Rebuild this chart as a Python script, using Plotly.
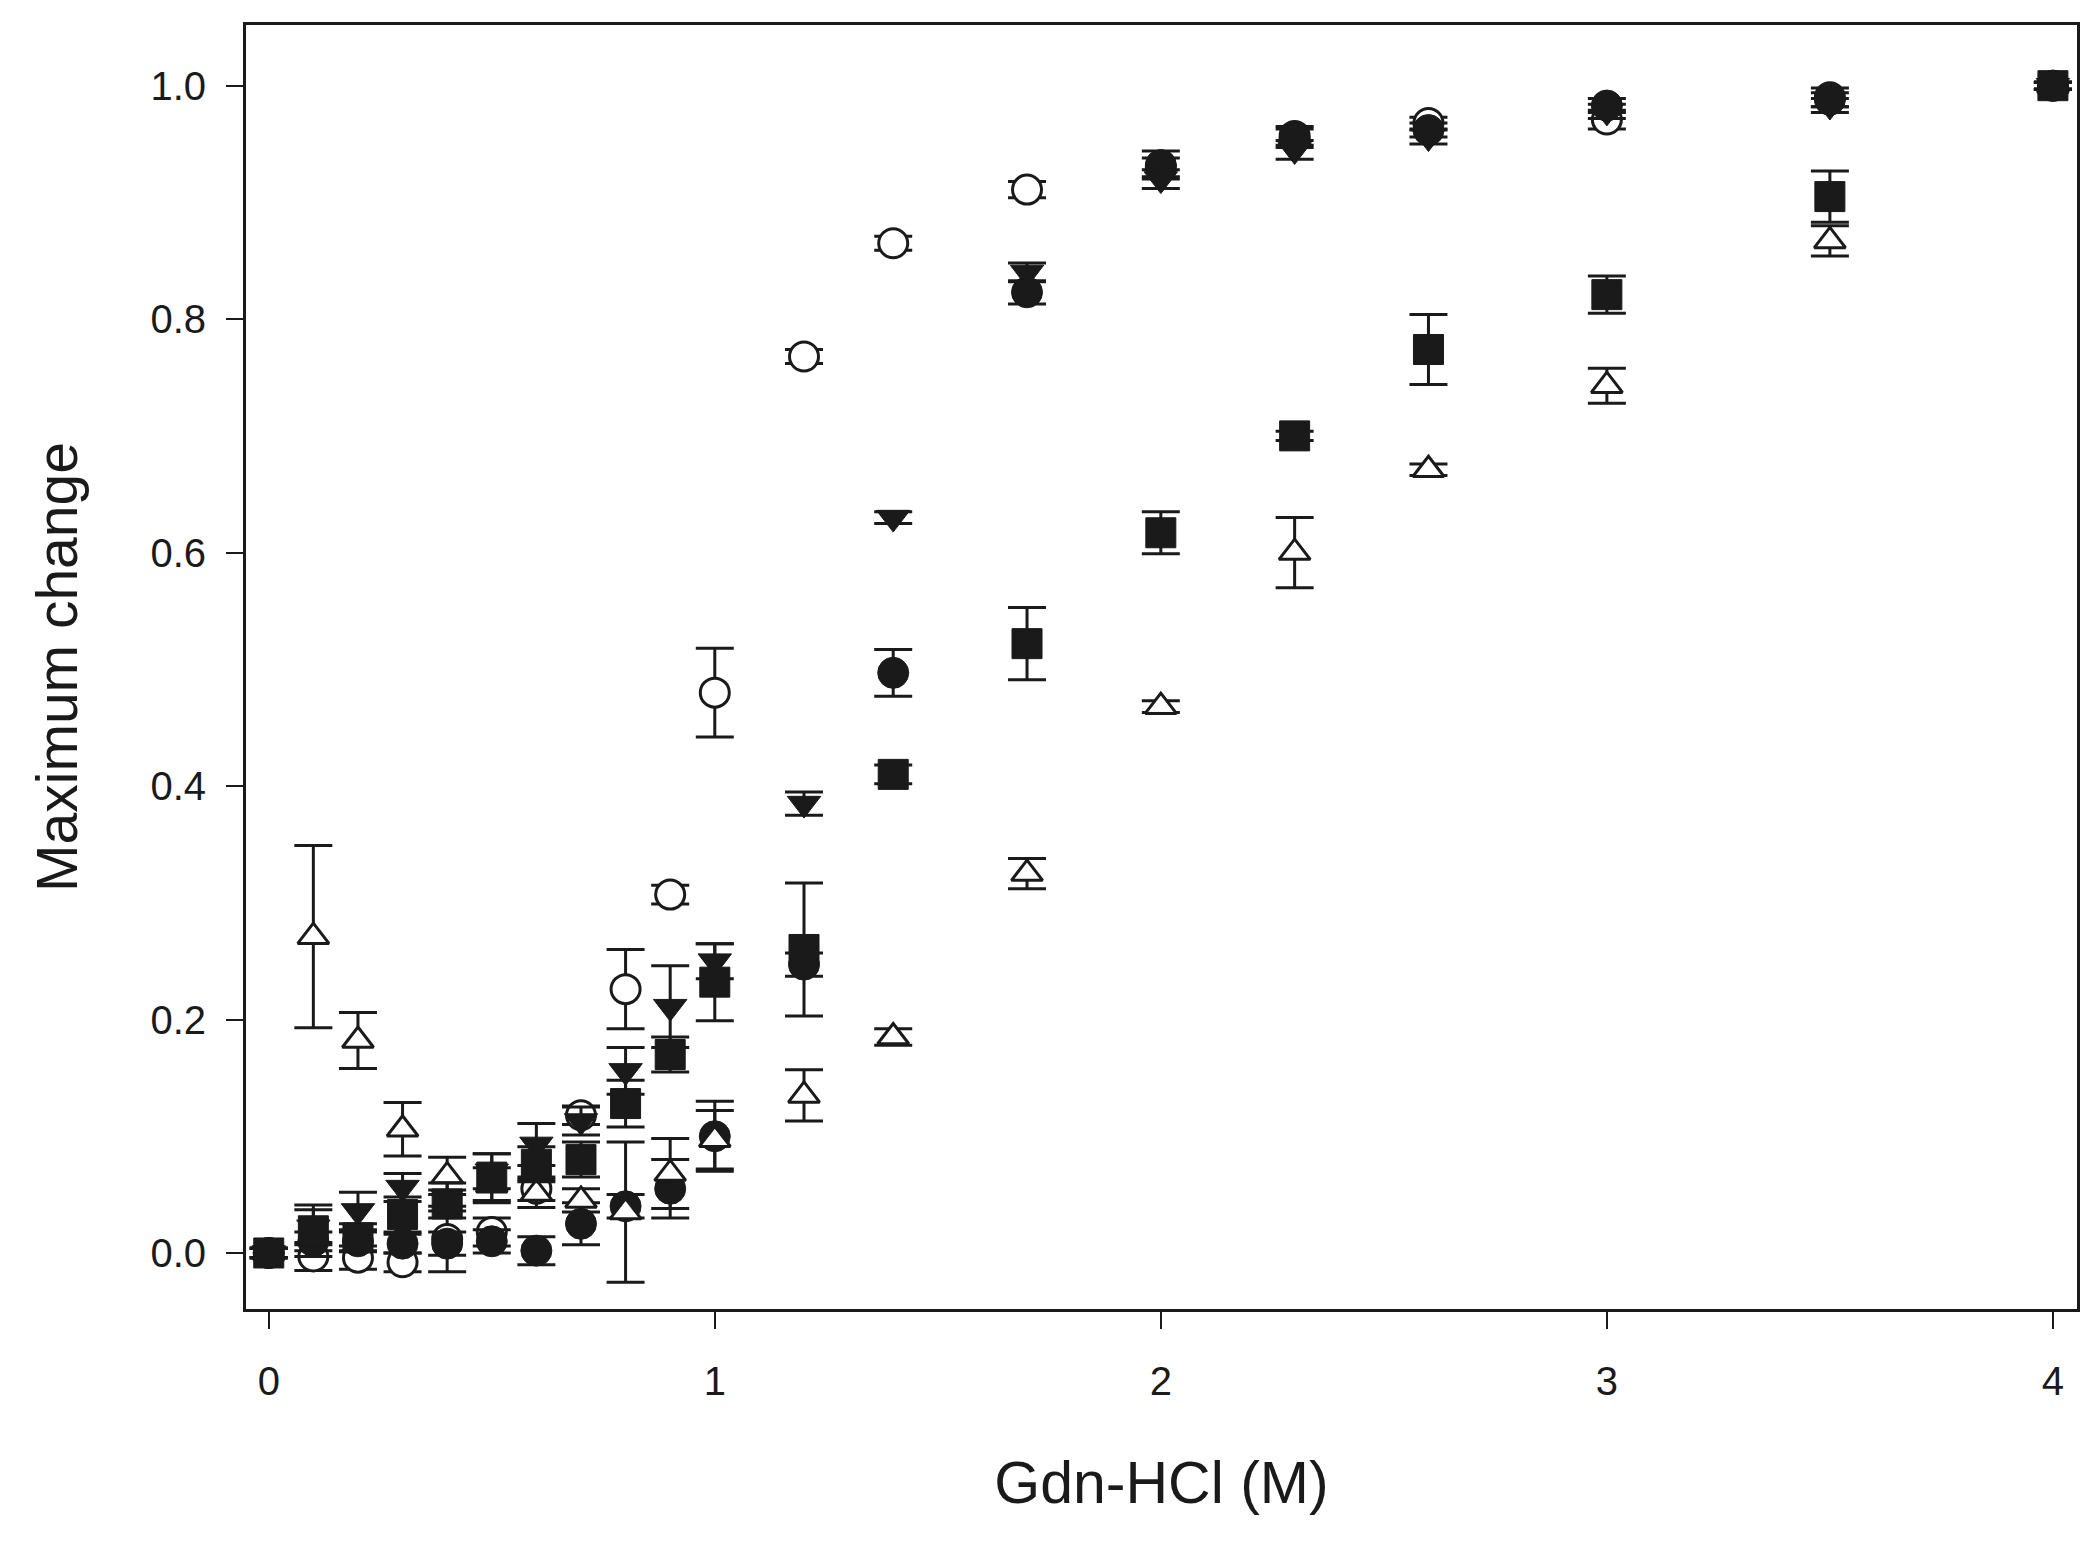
import plotly.graph_objects as go

gdn = [0, 0.1, 0.2, 0.3, 0.4, 0.5, 0.6, 0.7, 0.8, 0.9, 1.0, 1.2, 1.4, 1.7, 2.0, 2.3, 2.6, 3.0, 3.5, 4.0]

open_circle = [0, -0.003, -0.004, -0.008, 0.012, 0.018, 0.055, 0.118, 0.226, 0.307, 0.48, 0.768, 0.865, 0.911, 0.93, 0.957, 0.968, 0.971, 0.99, 1.0]
open_circle_err = [0.004, 0.012, 0.01, 0.008, 0.028, 0.012, 0.01, 0.008, 0.034, 0.008, 0.038, 0.006, 0.006, 0.007, 0.008, 0.008, 0.005, 0.008, 0.008, 0.003]

filled_circle = [0, 0.01, 0.01, 0.008, 0.008, 0.01, 0.002, 0.025, 0.04, 0.055, 0.10, 0.247, 0.497, 0.823, 0.932, 0.955, 0.962, 0.983, 0.988, 1.0]
filled_circle_err = [0.004, 0.008, 0.008, 0.008, 0.01, 0.01, 0.012, 0.018, 0.01, 0.025, 0.03, 0.01, 0.02, 0.01, 0.012, 0.008, 0.006, 0.006, 0.006, 0.003]

down_tri = [0, 0.022, 0.036, 0.056, 0.048, 0.07, 0.093, 0.113, 0.156, 0.211, 0.25, 0.385, 0.63, 0.84, 0.92, 0.945, 0.956, 0.978, 0.983, 1.0]
down_tri_err = [0.004, 0.015, 0.016, 0.012, 0.012, 0.015, 0.018, 0.012, 0.02, 0.035, 0.015, 0.01, 0.005, 0.008, 0.008, 0.008, 0.006, 0.006, 0.006, 0.003]

square = [0, 0.019, 0.013, 0.033, 0.042, 0.065, 0.076, 0.08, 0.128, 0.170, 0.232, 0.26, 0.41, 0.522, 0.617, 0.70, 0.774, 0.821, 0.905, 1.0]
square_err = [0.004, 0.022, 0.012, 0.015, 0.012, 0.02, 0.015, 0.015, 0.02, 0.015, 0.033, 0.057, 0.008, 0.031, 0.018, 0.004, 0.03, 0.016, 0.022, 0.003]

open_tri = [0, 0.271, 0.182, 0.106, 0.066, 0.058, 0.051, 0.045, 0.035, 0.068, 0.097, 0.135, 0.185, 0.325, 0.468, 0.60, 0.671, 0.743, 0.867, 1.0]
open_tri_err = [0.004, 0.078, 0.024, 0.023, 0.016, 0.015, 0.012, 0.01, 0.06, 0.03, 0.025, 0.022, 0.007, 0.013, 0.005, 0.03, 0.005, 0.015, 0.013, 0.003]

ink = "#1a1a1a"
font = "Liberation Sans, Arial"

# drawing order: later series sit on top
series = [
    (open_circle, open_circle_err, "circle", "white", 29, 3),
    (filled_circle, filled_circle_err, "circle", ink, 31, 1),
    (open_tri, open_tri_err, "triangle-up", "white", 27, 3),
    (down_tri, down_tri_err, "triangle-down", ink, 29, 1),
    (square, square_err, "square", ink, 30, 1),
]

fig = go.Figure()
for ys, err, sym, fill, size, lw in series:
    fig.add_trace(go.Scatter(
        x=gdn, y=ys, mode="markers",
        marker=dict(symbol=sym, size=size, color=fill, line=dict(color=ink, width=lw)),
        error_y=dict(type="data", array=err, visible=True, color=ink, thickness=3, width=19),
        showlegend=False,
    ))

axis_common = dict(
    showline=True, linecolor=ink, linewidth=3, mirror=True,
    ticks="outside", ticklen=17, tickwidth=2, tickcolor=ink,
    showgrid=False, zeroline=False,
    tickfont=dict(family=font, size=40, color=ink),
)

fig.update_xaxes(
    range=[-0.051, 4.054], tickvals=[0, 1, 2, 3, 4],
    title=dict(text="Gdn-HCl (M)", font=dict(family=font, size=59, color=ink), standoff=60),
    ticklabelstandoff=18,
    **axis_common,
)
fig.update_yaxes(
    range=[-0.048, 1.052], tickvals=[0, 0.2, 0.4, 0.6, 0.8, 1.0], tickformat=".1f",
    title=dict(text="Maximum change", font=dict(family=font, size=57, color=ink), standoff=55),
    ticklabelstandoff=12,
    **axis_common,
)

fig.update_layout(
    width=2100, height=1550,
    margin=dict(l=238, r=31, t=17, b=249),
    paper_bgcolor="white", plot_bgcolor="white",
)

fig.write_html("out.html")
